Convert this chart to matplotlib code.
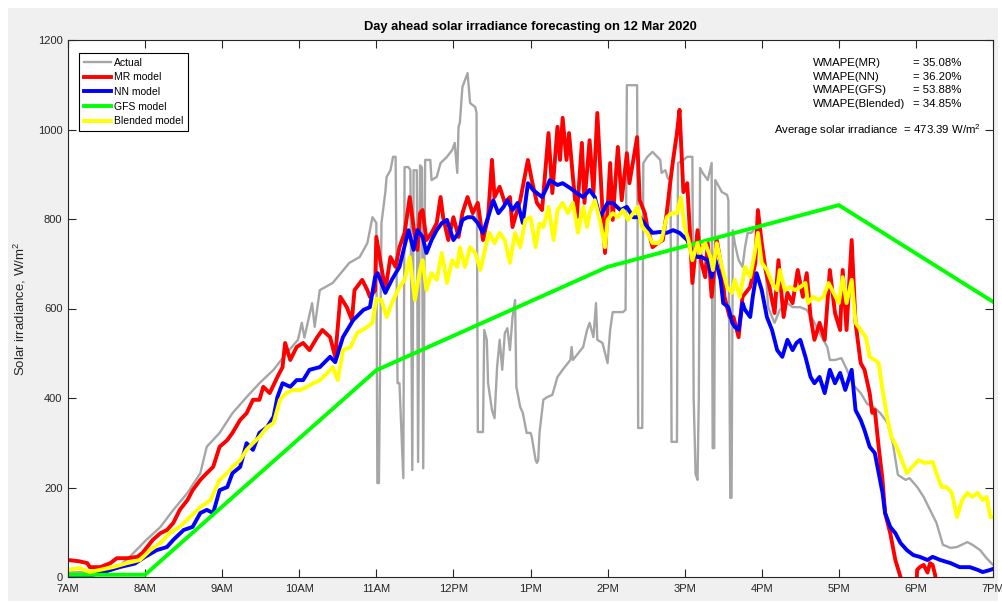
"""Day ahead solar irradiance forecasting plot (12 Mar 2020)."""
import matplotlib

matplotlib.use("Agg")
import matplotlib.pyplot as plt
import numpy as np
from matplotlib.patches import Rectangle

# (minutes after 7AM, W/m^2)
actual = [
    (0, 10), (25, 12), (40, 25), (48, 45), (61, 83), (72, 112), (82, 150), (93, 188),
    (103, 232), (108, 291), (118, 322), (128, 366), (139, 402), (149, 433), (160, 463),
    (170, 500), (179, 530), (182, 568), (184, 535), (190, 612), (192, 559), (196, 641),
    (206, 657), (219, 702), (227, 715), (233, 746), (237, 804), (240, 791), (240.8, 210),
    (242, 210), (244, 791), (247, 860), (248, 894), (251, 909), (253, 939), (255, 939),
    (256.5, 433), (258, 433), (261, 221), (262, 916), (265, 916), (266.5, 909), (268, 239),
    (269, 909), (271.5, 909), (272.5, 257), (274, 920), (275.5, 915), (276.5, 243),
    (278, 932), (282, 932), (283, 887), (287, 894), (290, 925), (295, 939), (299, 954),
    (301, 970), (303, 903), (304, 1006), (305, 1015), (307, 1095), (311, 1126), (313, 1059),
    (317, 1050), (318, 1037), (319, 324), (323, 324), (324, 552), (326, 530), (327, 433),
    (330, 373), (332, 355), (334, 469), (336, 530), (338, 463), (340, 545), (342, 556),
    (344, 507), (346, 581), (348, 619), (349, 425), (352, 380), (354, 367), (357, 322),
    (360, 322), (361, 313), (364, 261), (365, 255), (366, 261), (367, 322), (370, 396),
    (373, 402), (377, 407), (381, 447), (385, 463), (391, 485), (392, 514), (393, 485),
    (399, 507), (401, 514), (404, 552), (406, 568), (409, 536), (411, 612), (412, 530),
    (416, 523), (420, 478), (422, 552), (424, 592), (432, 592), (434, 597), (435, 1099),
    (443, 1099), (443.8, 333), (447, 333), (447.8, 925), (451, 939), (455, 950), (461, 932),
    (462, 903), (465, 909), (467, 890), (469, 890), (469.8, 302), (474, 302), (474.8, 925),
    (479, 932), (482, 939), (486, 939), (487, 400), (488.5, 230), (490, 217), (491, 400),
    (492, 914), (494, 903), (498, 887), (501, 925), (501.8, 288), (503, 288), (503.8, 887),
    (506, 876), (509, 860), (513, 854), (514, 842), (515.5, 177), (516.5, 177), (517.5, 775),
    (519, 746), (522, 708), (525, 693), (527, 737), (529, 769), (532, 769), (535, 782),
    (537, 775), (540, 730), (543, 686), (545, 603), (548, 581), (550, 568), (554, 597),
    (560, 612), (564, 603), (570, 603), (575, 597), (580, 574), (585, 545), (591, 514),
    (593, 485), (597, 485), (602, 489), (606, 465), (611, 430), (617, 411), (622, 387),
    (627, 380), (632, 367), (638, 344), (642, 299), (646, 228), (652, 217), (655, 221),
    (661, 201), (666, 179), (671, 150), (676, 121), (681, 72), (687, 65), (692, 67),
    (700, 78), (704, 72), (710, 60), (715, 42), (720, 27),
]

mr_model = [
    (0, 38), (9, 35), (15, 31), (17, 22), (25, 22), (33, 31), (38, 42), (46, 42), (54, 45),
    (58, 54), (66, 83), (72, 98), (77, 105), (82, 121), (87, 150), (93, 172), (97, 194),
    (103, 217), (108, 232), (113, 246), (118, 291), (124, 306), (128, 322), (134, 351),
    (139, 366), (144, 396), (149, 396), (152, 425), (157, 411), (163, 447), (167, 469),
    (169, 523), (173, 485), (178, 514), (183, 523), (188, 507), (194, 536), (198, 552),
    (204, 536), (208, 492), (212, 626), (217, 603), (221, 574), (223, 641), (229, 664),
    (233, 641), (235, 626), (239, 640), (240, 760), (243, 708), (247, 641), (251, 715),
    (255, 693), (258, 737), (262, 769), (266, 849), (269, 782), (272, 731), (274, 813),
    (276, 820), (279, 753), (283, 769), (287, 791), (290, 849), (292, 804), (296, 753),
    (300, 804), (304, 760), (307, 813), (311, 849), (315, 813), (319, 836), (323, 753),
    (327, 804), (330, 932), (332, 849), (336, 872), (340, 836), (344, 849), (346, 782),
    (349, 813), (352, 842), (354, 872), (358, 932), (361, 887), (365, 836), (369, 820),
    (374, 992), (377, 858), (381, 1006), (383, 932), (385, 1026), (388, 932), (390, 992),
    (393, 894), (396, 804), (400, 970), (402, 836), (406, 976), (409, 858), (412, 1037),
    (416, 820), (418, 724), (422, 925), (424, 798), (428, 961), (431, 842), (435, 947),
    (437, 880), (443, 983), (445, 842), (449, 813), (451, 782), (455, 737), (459, 746),
    (463, 753), (466, 813), (469, 887), (471, 932), (474, 992), (476, 1044), (479, 860),
    (482, 880), (484, 775), (486, 657), (490, 775), (493, 702), (496, 670), (498, 746),
    (501, 626), (505, 753), (509, 686), (511, 626), (515, 581), (518, 581), (522, 536),
    (525, 626), (531, 648), (535, 702), (537, 820), (540, 746), (543, 686), (546, 648),
    (550, 590), (553, 708), (557, 581), (560, 635), (564, 612), (568, 686), (572, 626),
    (575, 679), (578, 581), (581, 530), (585, 568), (589, 530), (593, 686), (597, 590),
    (601, 552), (603, 686), (606, 552), (610, 753), (613, 568), (617, 478), (620, 463),
    (624, 411), (626, 367), (628, 373), (631, 291), (634, 217), (636, 143), (640, 98),
    (644, 38), (648, 0), (650, -30), (660, -30), (661, 16), (663, 22), (666, 27), (669, 10),
    (671, 31), (673, 27), (675, 4), (676, -30),
]

nn_model = [
    (0, 3), (9, 2), (17, 3), (29, 12), (40, 22), (52, 30), (60, 45), (69, 60), (77, 67),
    (82, 83), (90, 105), (97, 112), (103, 143), (108, 150), (113, 143), (118, 194),
    (124, 201), (128, 232), (134, 246), (139, 299), (144, 284), (149, 322), (155, 335),
    (160, 358), (163, 402), (167, 433), (173, 425), (178, 440), (183, 440), (188, 463),
    (196, 469), (204, 492), (208, 480), (214, 536), (222, 574), (230, 597), (235, 603),
    (239, 670), (241, 679), (247, 635), (252, 664), (258, 693), (265, 775), (269, 731),
    (272, 775), (276, 760), (279, 724), (283, 753), (287, 775), (291, 791), (295, 798),
    (300, 753), (304, 769), (307, 798), (311, 804), (315, 804), (319, 791), (323, 769),
    (327, 804), (331, 842), (335, 813), (339, 827), (342, 842), (346, 820), (350, 836),
    (354, 791), (358, 880), (362, 865), (365, 858), (369, 849), (373, 872), (375, 887),
    (381, 876), (385, 880), (391, 869), (396, 858), (401, 849), (406, 865), (410, 849),
    (414, 804), (420, 836), (424, 836), (430, 820), (435, 827), (440, 804), (445, 804),
    (451, 782), (455, 769), (461, 771), (466, 769), (471, 775), (476, 769), (482, 753),
    (486, 724), (490, 715), (493, 715), (498, 708), (501, 670), (504, 708), (508, 664),
    (510, 612), (514, 603), (517, 568), (519, 559), (522, 552), (525, 612), (527, 597),
    (531, 581), (533, 626), (536, 679), (540, 641), (544, 581), (548, 552), (552, 507),
    (556, 492), (560, 530), (564, 507), (567, 523), (570, 530), (574, 492), (578, 447),
    (581, 433), (585, 447), (589, 411), (593, 463), (597, 433), (601, 456), (605, 418),
    (610, 463), (613, 373), (617, 351), (620, 328), (624, 291), (628, 277), (631, 232),
    (634, 188), (636, 143), (640, 112), (644, 98), (648, 76), (653, 60), (658, 49),
    (663, 45), (669, 38), (673, 45), (679, 38), (687, 31), (694, 22), (702, 22), (708, 16),
    (712, 11), (718, 16), (720, 18),
]

gfs_model = [(0, 5), (60, 5), (240, 462), (420, 693), (600, 831), (720, 615)]

blended_model = [
    (0, 16), (9, 20), (17, 11), (25, 16), (35, 22), (46, 31), (56, 38), (64, 60), (72, 76),
    (79, 98), (87, 112), (95, 134), (103, 156), (111, 172), (118, 217), (124, 232),
    (128, 246), (134, 261), (139, 284), (144, 299), (149, 313), (155, 335), (160, 344),
    (165, 396), (170, 411), (175, 418), (181, 418), (186, 425), (191, 433), (196, 440),
    (202, 456), (206, 469), (210, 440), (214, 507), (220, 514), (225, 545), (233, 559),
    (237, 568), (240, 622), (244, 619), (248, 581), (252, 612), (258, 648), (262, 664),
    (266, 715), (270, 619), (274, 686), (276, 708), (279, 641), (283, 679), (287, 664),
    (291, 724), (295, 657), (299, 708), (303, 693), (305, 737), (309, 693), (313, 737),
    (317, 724), (321, 686), (325, 737), (328, 769), (332, 746), (336, 769), (340, 753),
    (344, 702), (348, 769), (352, 737), (356, 798), (360, 804), (364, 737), (367, 790),
    (370, 782), (374, 827), (378, 753), (381, 820), (385, 836), (389, 813), (393, 836),
    (397, 769), (401, 827), (404, 782), (406, 813), (410, 842), (414, 798), (418, 737),
    (420, 798), (424, 813), (428, 804), (432, 820), (436, 798), (440, 813), (443, 827),
    (447, 782), (451, 769), (455, 746), (459, 746), (462, 753), (466, 804), (470, 813),
    (474, 813), (477, 849), (480, 782), (483, 753), (486, 708), (490, 746), (492, 724),
    (496, 746), (500, 715), (502, 686), (505, 746), (509, 693), (513, 648), (517, 635),
    (519, 664), (523, 626), (527, 693), (531, 670), (535, 731), (537, 769), (540, 702),
    (544, 686), (548, 657), (552, 641), (554, 686), (558, 641), (562, 648), (566, 641),
    (570, 648), (574, 657), (576, 612), (580, 626), (584, 619), (588, 626), (592, 657),
    (596, 635), (600, 612), (603, 670), (606, 612), (610, 664), (613, 568), (617, 552),
    (621, 536), (624, 492), (628, 485), (631, 478), (634, 418), (638, 351), (641, 313),
    (645, 291), (649, 261), (653, 232), (657, 246), (662, 261), (667, 255), (673, 257),
    (676, 232), (680, 201), (684, 201), (688, 188), (692, 134), (696, 172), (700, 188),
    (704, 179), (708, 188), (712, 172), (715, 179), (718, 134), (720, 134),
]

hour_ticks = list(range(7, 20))
hour_labels = ["7AM", "8AM", "9AM", "10AM", "11AM", "12PM", "1PM",
               "2PM", "3PM", "4PM", "5PM", "6PM", "7PM"]

wmape_names = ["WMAPE(MR)", "WMAPE(NN)", "WMAPE(GFS)", "WMAPE(Blended)"]
wmape_values = [35.08, 36.20, 53.88, 34.85]
avg_irradiance = 473.39


def to_xy(series):
    arr = np.array(series, dtype=float)
    return 7 + arr[:, 0] / 60.0, arr[:, 1]


plt.rcParams["font.family"] = ["Liberation Sans", "DejaVu Sans"]
plt.rcParams["mathtext.fontset"] = "custom"
plt.rcParams["mathtext.rm"] = "Liberation Sans"

W, H = 1003, 603
fig = plt.figure(figsize=(W / 100, H / 100), dpi=100, facecolor="white")
fig.patches.append(Rectangle((8 / W, 2 / H), 990 / W, 593 / H, transform=fig.transFigure,
                             facecolor="#f0f0f0", edgecolor="none", zorder=-10))
ax = fig.add_axes([68 / W, 26 / H, 925 / W, 537 / H])

styles = [
    (actual, "Actual", "#a6a6a6", 1.7),
    (mr_model, "MR model", "#ff0000", 2.8),
    (nn_model, "NN model", "#0000ff", 2.8),
    (gfs_model, "GFS model", "#00ff00", 2.8),
    (blended_model, "Blended model", "#ffff00", 2.8),
]
for data, label, color, lw in styles:
    x, y = to_xy(data)
    ax.plot(x, y, color=color, lw=lw, label=label, solid_joinstyle="round")

ax.set_xlim(7, 19)
ax.set_ylim(0, 1200)
ax.set_xticks(hour_ticks)
ax.set_xticklabels(hour_labels)
ax.set_yticks(range(0, 1201, 200))
ax.tick_params(direction="in", top=True, right=True, length=6, width=0.8,
               colors="#262626", labelsize=8)
ax.tick_params(axis="x", pad=5)
ax.tick_params(axis="y", pad=4)
for s in ax.spines.values():
    s.set_color("#262626")
    s.set_linewidth(0.8)

ax.set_ylabel("Solar irradiance, W/m$^2$", fontsize=9.5, color="#262626")
ax.yaxis.set_label_coords(-0.043, 0.5)

ax.text(0.4995, (577 - 27) / 537, "Day ahead solar irradiance forecasting on 12 Mar 2020",
        transform=ax.transAxes, ha="center", va="center", fontsize=9.3, fontweight="bold")

leg = ax.legend(loc="upper left", bbox_to_anchor=(0.012, 0.976), borderaxespad=0,
                fontsize=7.5, handlelength=2.6, handletextpad=0.3, labelspacing=0.45,
                borderpad=0.45, fancybox=False, framealpha=1, edgecolor="black")
leg.get_frame().set_linewidth(0.8)

row_y = [63, 76.5, 90, 104]
for name, val, py in zip(wmape_names, wmape_values, row_y):
    yy = (577 - py) / 537
    ax.text((813 - 68) / 925, yy, name, transform=ax.transAxes, ha="left", va="center",
            fontsize=8.2)
    ax.text((913 - 68) / 925, yy, f"= {val:.2f}%", transform=ax.transAxes, ha="left",
            va="center", fontsize=8.2)
ax.text((981 - 68) / 925, (577 - 130) / 537,
        f"Average solar irradiance  = {avg_irradiance:.2f} W/m$^2$",
        transform=ax.transAxes, ha="right", va="center", fontsize=8.2)

fig.savefig("out.png", dpi=100, facecolor=fig.get_facecolor())
